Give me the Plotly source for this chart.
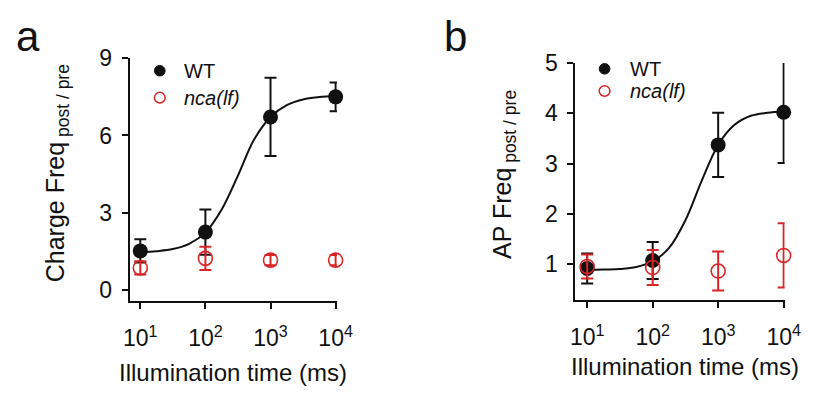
import plotly.graph_objects as go

# ---------------- data ----------------
illum_ms = [10, 100, 1000, 10000]

# panel a: Charge Freq post/pre
a_wt = [1.52, 2.25, 6.72, 7.50]
a_wt_err = [0.45, 0.88, 1.52, 0.56]
a_nca = [0.86, 1.23, 1.16, 1.16]
a_nca_err = [0.26, 0.45, 0.20, 0.20]

# panel b: AP Freq post/pre
b_wt = [0.91, 1.07, 3.37, 4.02]
b_wt_err = [0.30, 0.37, 0.64, 1.01]
b_nca = [0.95, 0.93, 0.86, 1.17]
b_nca_err = [0.24, 0.35, 0.39, 0.64]

# fitted curves
fit_x = [10, 17.8, 31.6, 56.2, 100, 178, 316, 562, 1000, 1778, 3162, 5623, 10000]
a_fit = [1.47, 1.51, 1.59, 1.79, 2.24, 3.13, 4.44, 5.85, 6.72, 7.18, 7.40, 7.49, 7.53]
b_fit = [0.88, 0.89, 0.90, 0.94, 1.05, 1.32, 1.87, 2.66, 3.37, 3.77, 3.95, 4.01, 4.04]

xtick_vals = [10, 100, 1000, 10000]
xtick_text = ["10<sup>1</sup>", "10<sup>2</sup>", "10<sup>3</sup>", "10<sup>4</sup>"]
a_yticks = [0, 3, 6, 9]
b_yticks = [1, 2, 3, 4, 5]

BLACK = "#111111"
RED = "#d92525"
FONT = "Liberation Sans, Arial, sans-serif"

W, H = 824, 394

fig = go.Figure()

def add_panel(xa, ya, wt, wt_err, nca, nca_err, fit):
    fig.add_trace(go.Scatter(x=fit_x, y=fit, mode="lines", line=dict(color=BLACK, width=2, shape="spline"),
                             xaxis=xa, yaxis=ya, showlegend=False, hoverinfo="skip", cliponaxis=False))
    fig.add_trace(go.Scatter(x=illum_ms, y=wt, mode="markers", cliponaxis=False,
                             marker=dict(color=BLACK, size=15),
                             error_y=dict(type="data", array=wt_err, color=BLACK, thickness=2, width=6),
                             xaxis=xa, yaxis=ya, showlegend=False))
    fig.add_trace(go.Scatter(x=illum_ms, y=nca, mode="markers", cliponaxis=False,
                             marker=dict(color="rgba(0,0,0,0)", size=14, line=dict(color=RED, width=1.6)),
                             error_y=dict(type="data", array=nca_err, color=RED, thickness=2, width=6),
                             xaxis=xa, yaxis=ya, showlegend=False))

add_panel("x", "y", a_wt, a_wt_err, a_nca, a_nca_err, a_fit)
add_panel("x2", "y2", b_wt, b_wt_err, b_nca, b_nca_err, b_fit)

def px_x(p):
    return p / W

def px_y(p):
    return 1 - p / H

axis_common = dict(showline=True, linewidth=2, linecolor=BLACK, ticks="outside", ticklen=6, tickwidth=2,
                   tickcolor=BLACK, showgrid=False, zeroline=False, tickfont=dict(family=FONT, size=23, color=BLACK))

fig.update_layout(
    width=W, height=H, margin=dict(l=0, r=0, t=0, b=0),
    paper_bgcolor="white", plot_bgcolor="white", showlegend=False,
    xaxis=dict(domain=[px_x(127), px_x(340)], type="log", range=[0.836, 4.02], anchor="y",
               tickvals=xtick_vals, ticktext=xtick_text, ticklabelstandoff=10, **axis_common),
    yaxis=dict(domain=[px_y(299), px_y(47)], range=[-0.41, 9.0], anchor="x",
               tickvals=a_yticks, ticklabelstandoff=5, **axis_common),
    xaxis2=dict(domain=[px_x(585), px_x(800)], type="log", range=[0.82, 4.015], anchor="y2",
                tickvals=xtick_vals, ticktext=xtick_text, ticklabelstandoff=10, **axis_common),
    yaxis2=dict(domain=[px_y(298), px_y(52)], range=[0.29, 5.0], anchor="x2",
                tickvals=b_yticks, ticklabelstandoff=5, **axis_common),
)

annots = []
# panel letters
annots.append(dict(x=px_x(23), y=px_y(24), text="a", font=dict(family=FONT, size=42, color=BLACK)))
annots.append(dict(x=px_x(462), y=px_y(24), text="b", font=dict(family=FONT, size=42, color=BLACK)))
# axis titles
annots.append(dict(x=px_x(52), y=px_y(167), text="Charge Freq<sub> post / pre</sub>", textangle=-90,
                   font=dict(family=FONT, size=25, color=BLACK)))
annots.append(dict(x=px_x(511), y=px_y(168), text="AP Freq<sub> post / pre</sub>", textangle=-90,
                   font=dict(family=FONT, size=25, color=BLACK)))
annots.append(dict(x=px_x(233), y=px_y(374), text="Illumination time (ms)", font=dict(family=FONT, size=24, color=BLACK)))
annots.append(dict(x=px_x(698), y=px_y(368), text="Illumination time (ms)", font=dict(family=FONT, size=24, color=BLACK)))
# legends
for cx, y1, y2, tx in [(158, 60, 88, 181), (615, 58, 81, 639)]:
    annots.append(dict(x=px_x(tx), y=px_y(y1), text="WT", xanchor="left", font=dict(family=FONT, size=20, color=BLACK)))
    annots.append(dict(x=px_x(tx), y=px_y(y2), text="<i>nca(lf)</i>", xanchor="left", font=dict(family=FONT, size=20, color=BLACK)))
for a in annots:
    a.setdefault("xanchor", "center")
    a.update(xref="paper", yref="paper", yanchor="middle", showarrow=False)
fig.update_layout(annotations=annots)

shapes = []
for cx, y1, y2 in [(158, 60, 88), (615, 58, 81)]:
    r = 5.5
    shapes.append(dict(type="circle", xref="paper", yref="paper", x0=px_x(cx - r), x1=px_x(cx + r),
                       y0=px_y(y1 + r), y1=px_y(y1 - r), fillcolor=BLACK, line=dict(color=BLACK, width=1)))
    shapes.append(dict(type="circle", xref="paper", yref="paper", x0=px_x(cx - r), x1=px_x(cx + r),
                       y0=px_y(y2 + r), y1=px_y(y2 - r), fillcolor="rgba(0,0,0,0)", line=dict(color=RED, width=1.5)))
fig.update_layout(shapes=shapes)

fig.write_html("out.html")
